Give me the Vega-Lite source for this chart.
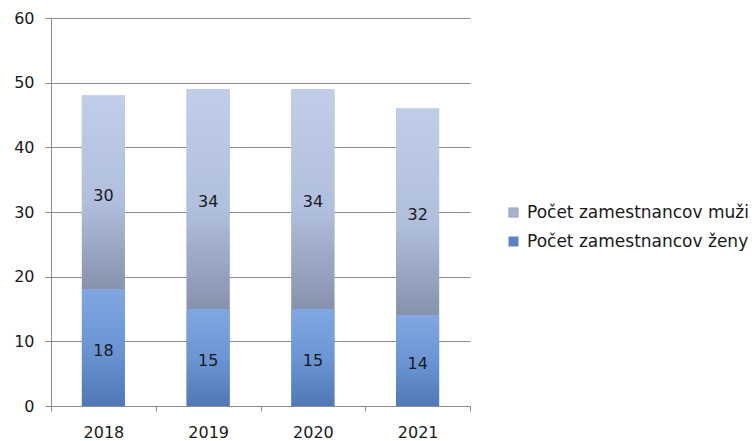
{
  "$schema": "https://vega.github.io/schema/vega-lite/v6.json",
  "autosize": "none",
  "width": 419,
  "height": 388,
  "padding": {"left": 51, "top": 18, "right": 282, "bottom": 35},
  "background": "white",
  "config": {
    "view": {"stroke": null},
    "font": "DejaVu Sans",
    "axis": {"labelFont": "DejaVu Sans", "labelFontSize": 16, "labelColor": "#1a1a1a", "domainColor": "#8c8c8c", "tickColor": "#8c8c8c", "gridColor": "#8c8c8c"},
    "axisY": {"grid": true, "tickSize": 6, "labelPadding": 11, "title": null},
    "axisX": {"labelAngle": 0, "tickBand": "extent", "tickSize": 5, "labelPadding": 13, "grid": false, "title": null}
  },
  "data": {
    "values": [
      {"year": "2018", "series": "Počet zamestnancov ženy", "order": 1, "value": 18},
      {"year": "2018", "series": "Počet zamestnancov muži", "order": 2, "value": 30},
      {"year": "2019", "series": "Počet zamestnancov ženy", "order": 1, "value": 15},
      {"year": "2019", "series": "Počet zamestnancov muži", "order": 2, "value": 34},
      {"year": "2020", "series": "Počet zamestnancov ženy", "order": 1, "value": 15},
      {"year": "2020", "series": "Počet zamestnancov muži", "order": 2, "value": 34},
      {"year": "2021", "series": "Počet zamestnancov ženy", "order": 1, "value": 14},
      {"year": "2021", "series": "Počet zamestnancov muži", "order": 2, "value": 32}
    ]
  },
  "transform": [
    {"stack": "value", "groupby": ["year"], "sort": [{"field": "order", "order": "ascending"}], "as": ["v0", "v1"]},
    {"calculate": "(datum.v0 + datum.v1) / 2", "as": "mid"}
  ],
  "encoding": {
    "x": {
      "field": "year", "type": "nominal", "title": null,
      "scale": {"paddingInner": 0, "paddingOuter": 0}
    }
  },
  "layer": [
    {
      "mark": {"type": "bar", "size": 43},
      "encoding": {
        "y": {"field": "v0", "type": "quantitative", "title": null, "scale": {"domain": [0, 60]}, "axis": {"values": [0, 10, 20, 30, 40, 50, 60]}},
        "y2": {"field": "v1"},
        "color": {
          "field": "series", "type": "nominal",
          "scale": {"domain": ["Počet zamestnancov muži", "Počet zamestnancov ženy"], "range": ["#a3b3d2", "#5a83c4"]},
          "legend": {
            "title": null, "orient": "none", "legendX": 454, "legendY": 186,
            "symbolType": "square", "symbolSize": 90, "symbolStrokeColor": "#7f8fae", "symbolStrokeWidth": 0.5,
            "labelFont": "DejaVu Sans", "labelFontSize": 17, "labelColor": "#1a1a1a", "rowPadding": 11, "labelOffset": 5, "labelLimit": 0
          }
        }
      }
    },
    {
      "transform": [{"filter": "datum.order == 2"}],
      "mark": {"type": "bar", "size": 43, "color": {"gradient": "linear", "x1": 0, "y1": 0, "x2": 0, "y2": 1, "stops": [{"offset": 0, "color": "#c1cee9"}, {"offset": 0.55, "color": "#b0bfdd"}, {"offset": 1, "color": "#8792ad"}]}},
      "encoding": {"y": {"field": "v0", "type": "quantitative", "title": null, "axis": {"values": [0, 10, 20, 30, 40, 50, 60]}}, "y2": {"field": "v1"}}
    },
    {
      "transform": [{"filter": "datum.order == 1"}],
      "mark": {"type": "bar", "size": 43, "color": {"gradient": "linear", "x1": 0, "y1": 0, "x2": 0, "y2": 1, "stops": [{"offset": 0, "color": "#80a7e2"}, {"offset": 0.5, "color": "#6b95d5"}, {"offset": 1, "color": "#5078b6"}]}},
      "encoding": {"y": {"field": "v0", "type": "quantitative", "title": null, "axis": {"values": [0, 10, 20, 30, 40, 50, 60]}}, "y2": {"field": "v1"}}
    },
    {
      "mark": {"type": "text", "font": "DejaVu Sans", "fontSize": 16, "color": "#1a1a1a", "dy": 3},
      "encoding": {
        "y": {"field": "mid", "type": "quantitative", "title": null, "axis": {"values": [0, 10, 20, 30, 40, 50, 60]}},
        "text": {"field": "value", "type": "quantitative"}
      }
    }
  ]
}
